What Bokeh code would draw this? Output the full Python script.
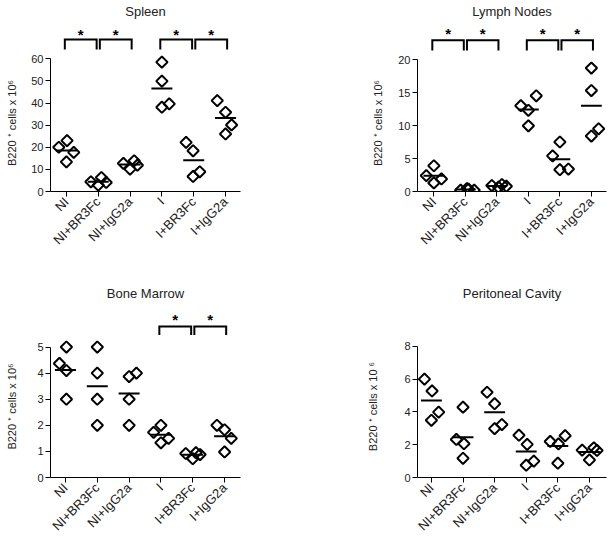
import math
from bokeh.plotting import figure
from bokeh.layouts import column, row
from bokeh.models import Range1d, FixedTicker
from bokeh.core.properties import value
from bokeh.embed import file_html
from bokeh.resources import INLINE

categories = ["NI", "NI+BR3Fc", "NI+IgG2a", "I", "I+BR3Fc", "I+IgG2a"]

# ---- data (4 mice per group) ----
spleen_values = [[20.0, 23.0, 17.7, 13.4], [4.4, 6.3, 2.9, 4.1], [12.7, 13.9, 10.1, 11.9],
                 [58.5, 49.9, 38.1, 39.6], [22.2, 18.4, 6.8, 8.9], [41.1, 35.8, 30.1, 26.0]]
spleen_jitter = [[-0.24, 0.02, 0.23, 0.0], [-0.23, 0.10, 0.0, 0.25], [-0.21, 0.13, 0.0, 0.23],
                 [0.0, 0.0, 0.0, 0.23], [-0.24, -0.02, -0.02, 0.19], [-0.26, 0.0, 0.19, 0.0]]
spleen_ticks = [0, 10, 20, 30, 40, 50, 60]
spleen_pairs = [(0, 1), (1, 2), (3, 4), (4, 5)]

lymph_values = [[2.4, 3.9, 1.9, 1.3], [0.2, 0.45, 0.2, 0.35], [0.9, 1.05, 0.8, 0.65],
                [13.0, 12.3, 14.5, 9.95], [5.4, 7.5, 3.3, 3.4], [18.7, 15.3, 8.4, 9.5]]
lymph_jitter = [[-0.24, 0.0, 0.24, 0.0], [-0.15, 0.05, 0.28, 0.10], [-0.16, 0.16, 0.30, 0.05],
                [-0.24, 0.0, 0.25, 0.0], [-0.23, 0.0, 0.0, 0.27], [0.0, 0.0, 0.0, 0.23]]
lymph_ticks = [0, 5, 10, 15, 20]
lymph_pairs = [(0, 1), (1, 2), (3, 4), (4, 5)]

marrow_values = [[4.37, 5.0, 4.1, 3.0], [5.0, 4.0, 3.0, 2.0], [3.87, 4.0, 3.0, 2.0],
                 [1.73, 2.0, 1.5, 1.33], [0.92, 0.72, 0.95, 0.88], [2.0, 1.83, 1.5, 0.98]]
marrow_jitter = [[-0.19, 0.03, 0.03, 0.03], [0.0, 0.0, 0.0, 0.0], [0.0, 0.23, 0.0, 0.0],
                 [-0.23, 0.0, 0.24, 0.0], [-0.22, 0.0, 0.10, 0.23], [-0.24, 0.0, 0.21, 0.0]]
marrow_ticks = [0, 1, 2, 3, 4, 5]
marrow_pairs = [(3, 4), (4, 5)]

perit_values = [[6.0, 5.28, 3.99, 3.49], [4.29, 2.32, 2.06, 1.17], [5.2, 4.5, 2.98, 3.23],
                [2.58, 2.02, 0.75, 1.0], [2.2, 2.05, 2.55, 0.87], [1.67, 1.07, 1.81, 1.65]]
perit_jitter = [[-0.22, 0.02, 0.23, 0.0], [0.0, -0.21, 0.03, 0.0], [-0.24, 0.0, 0.0, 0.23],
                [-0.23, 0.03, 0.0, 0.24], [-0.24, 0.02, 0.23, 0.0], [-0.23, 0.0, 0.14, 0.24]]
perit_ticks = [0, 2, 4, 6, 8]
perit_pairs = []

FONT = "Liberation Sans"


def panel(title, values, jitter, yticks, pairs, ylabel, xr, width, bl, br,
          top_h, top_bt, main_h, main_bb, px_per_unit, bracket, label_standoff):
    frame_top_h = top_h - top_bt
    frame_main_h = main_h - main_bb
    ymain = frame_main_h / px_per_unit
    ybr = (ymain, ymain + frame_top_h / px_per_unit)

    # --- upper strip: title + significance brackets (continues the y scale) ---
    t = figure(width=width, height=top_h, output_backend="svg", toolbar_location=None,
               x_range=Range1d(*xr), y_range=Range1d(*ybr), x_axis_type=None, y_axis_type=None,
               min_border_left=bl, min_border_right=br, min_border_top=top_bt, min_border_bottom=0)
    t.title.text = title
    t.title.align = "center"
    t.title.text_font = FONT
    t.title.text_font_size = "13px"
    t.title.text_font_style = "normal"
    t.title.text_color = "#222222"
    t.title.standoff = 0
    t.outline_line_color = None
    t.grid.visible = False
    t.background_fill_color = None
    t.border_fill_color = None

    if pairs:
        top, leg, star = bracket
        starts = {a for a, b in pairs}
        ends = {b for a, b in pairs}
        bx, by, sx, sy = [], [], [], []
        for a, b in pairs:
            x0 = a + (0.05 if a in ends else -0.05)
            x1 = b + (-0.05 if b in starts else 0.05)
            bx.append([x0, x0, x1, x1])
            by.append([leg, top, top, leg])
            sx.append((x0 + x1) / 2)
            sy.append(star)
        t.multi_line(xs=bx, ys=by, line_color="black", line_width=2, line_join="miter")
        t.text(x=sx, y=sy, text=["*"] * len(sx), text_font=value(FONT),
               text_font_size="15px", text_font_style="bold", text_align="center",
               text_baseline="middle", text_color="black")

    # --- main plot ---
    p = figure(width=width, height=main_h, output_backend="svg", toolbar_location=None,
               x_range=t.x_range, y_range=Range1d(0, ymain),
               min_border_left=bl, min_border_right=br, min_border_top=0, min_border_bottom=main_bb)
    p.outline_line_color = None
    p.xgrid.visible = False
    p.ygrid.visible = False
    p.background_fill_color = None
    p.border_fill_color = None

    for ax in (p.xaxis[0], p.yaxis[0]):
        ax.axis_line_color = "black"
        ax.axis_line_width = 1
        ax.major_tick_line_color = "black"
        ax.major_tick_in = 0
        ax.major_tick_out = 5
        ax.minor_tick_line_color = None
        ax.major_label_text_font = FONT
        ax.major_label_text_color = "#222222"
        ax.major_label_standoff = 2

    p.yaxis.ticker = FixedTicker(ticks=yticks)
    p.yaxis.bounds = (0, yticks[-1])
    p.yaxis.major_label_text_font_size = "11px"
    p.yaxis.axis_label = ylabel
    p.yaxis.axis_label_text_font = FONT
    p.yaxis.axis_label_text_font_size = "11px"
    p.yaxis.axis_label_text_font_style = "normal"
    p.yaxis.axis_label_text_color = "#222222"
    p.yaxis.axis_label_standoff = label_standoff

    p.xaxis.ticker = FixedTicker(ticks=list(range(len(categories))))
    p.xaxis.major_label_overrides = {i: c for i, c in enumerate(categories)}
    p.xaxis.major_label_orientation = math.pi / 4
    p.xaxis.major_label_text_font_size = "13px"
    p.xaxis.major_label_standoff = 3

    xs, ys = [], []
    mx0, mx1, my = [], [], []
    for i, (vals, jit) in enumerate(zip(values, jitter)):
        for v, j in zip(vals, jit):
            xs.append(i + j)
            ys.append(v)
        m = sum(vals) / len(vals)
        mx0.append(i - 0.33)
        mx1.append(i + 0.33)
        my.append(m)

    p.segment(x0=mx0, y0=my, x1=mx1, y1=my, line_color="black", line_width=2)
    p.scatter(x=xs, y=ys, marker="square", angle=math.pi / 4, size=8,
              fill_color=None, line_color="black", line_width=2)
    return column(t, p, spacing=0)


ylab = "B220 \u207a cells x 10\u2076"
ylab_p = "B220 \u207a cells x 10 \u2076"

c1 = panel("Spleen", spleen_values, spleen_jitter, spleen_ticks, spleen_pairs, ylab,
           (-0.5, 5.47), 305, 50, 65, 54, 18, 229, 92, 2.212, (68.7, 64.2, 71.0), 10)
c2 = panel("Lymph Nodes", lymph_values, lymph_jitter, lymph_ticks, lymph_pairs, ylab,
           (-0.52, 5.48), 303, 112, 2, 54, 18, 229, 92, 6.6, (22.9, 21.36, 23.9), 11)
c3 = panel("Bone Marrow", marrow_values, marrow_jitter, marrow_ticks, marrow_pairs, ylab,
           (-0.47, 5.5), 305, 50, 65, 52, 17, 206, 62, 26.46, (5.78, 5.37, 6.04), 16)
c4 = panel("Peritoneal Cavity", perit_values, perit_jitter, perit_ticks, perit_pairs, ylab_p,
           (-0.44, 5.54), 303, 112, 2, 52, 17, 206, 62, 16.625, None, 22)

layout = column(row(c1, c2, spacing=0), row(c3, c4, spacing=0), spacing=0)
open("out.html", "w").write(file_html(layout, INLINE))
